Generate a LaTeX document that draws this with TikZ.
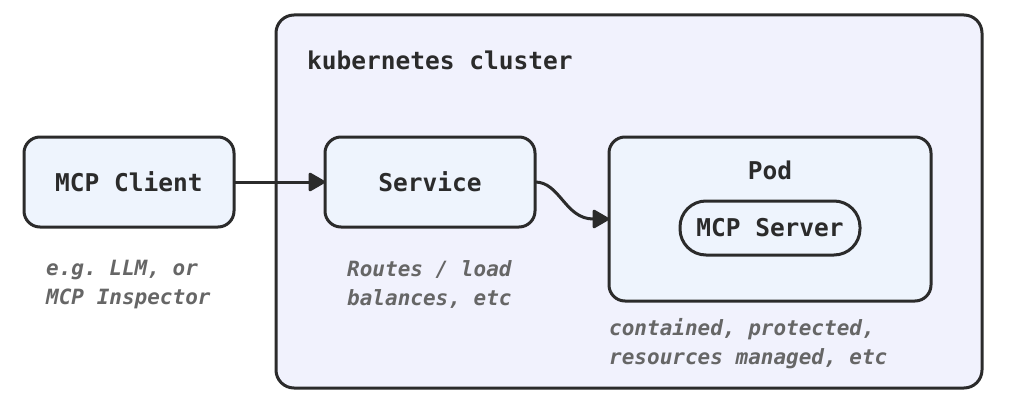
\documentclass[tikz,border=0pt]{standalone}
\usepackage{fontspec}
\setmonofont{DejaVu Sans Mono}
\usetikzlibrary{arrows.meta}
\definecolor{edge}{HTML}{2B2B2B}
\definecolor{boxfill}{HTML}{EEF4FD}
\definecolor{clusterfill}{HTML}{F1F2FD}
\definecolor{note}{HTML}{666666}
\begin{document}
\begin{tikzpicture}[x=1pt,y=-1pt,
  box/.style={draw=edge,line width=3pt,fill=boxfill,rounded corners=16pt},
  lbl/.style={font=\fontsize{24.5}{28}\selectfont\ttfamily\bfseries,text=edge},
  notes/.style={font=\fontsize{21}{29}\selectfont\ttfamily\bfseries\itshape,text=note,align=left,anchor=north west,inner sep=0pt},
  arr/.style={draw=edge,line width=3pt,-{Triangle[length=18pt,width=20pt,round]}}]
\useasboundingbox (0,0) rectangle (1010,412);
\draw[draw=edge,line width=3pt,fill=clusterfill,rounded corners=18pt] (276,15) rectangle (982,388);
\node[lbl,anchor=west,inner sep=0pt] (title) at (307,60) {kubernetes cluster};
\draw[box] (24,137) rectangle (234,227);
\node[lbl] (client) at (129,182) {MCP Client};
\coordinate (clientR) at (234,182);
\draw[box] (325,137) rectangle (535,227);
\node[lbl] (service) at (430,182) {Service};
\coordinate (serviceL) at (325,182);
\coordinate (serviceR) at (535,182);
\draw[box] (609,137) rectangle (931,301);
\node[lbl] (pod) at (770,170) {Pod};
\coordinate (podL) at (609,219);
\draw[draw=edge,line width=3pt,fill=boxfill,rounded corners=26pt] (680,201) rectangle (860,255);
\node[lbl] (server) at (770,228) {MCP Server};
\draw[arr] (clientR) -- (serviceL);
\draw[arr] (serviceR) .. controls (560,182) and (565,219) .. (podL);
\node[notes] (n1) at (46,260) {e.g. LLM, or\\MCP Inspector};
\node[notes] (n2) at (347,260) {Routes / load\\balances, etc};
\node[notes] (n3) at (609,318) {contained, protected,\\resources managed, etc};
\end{tikzpicture}
\end{document}
